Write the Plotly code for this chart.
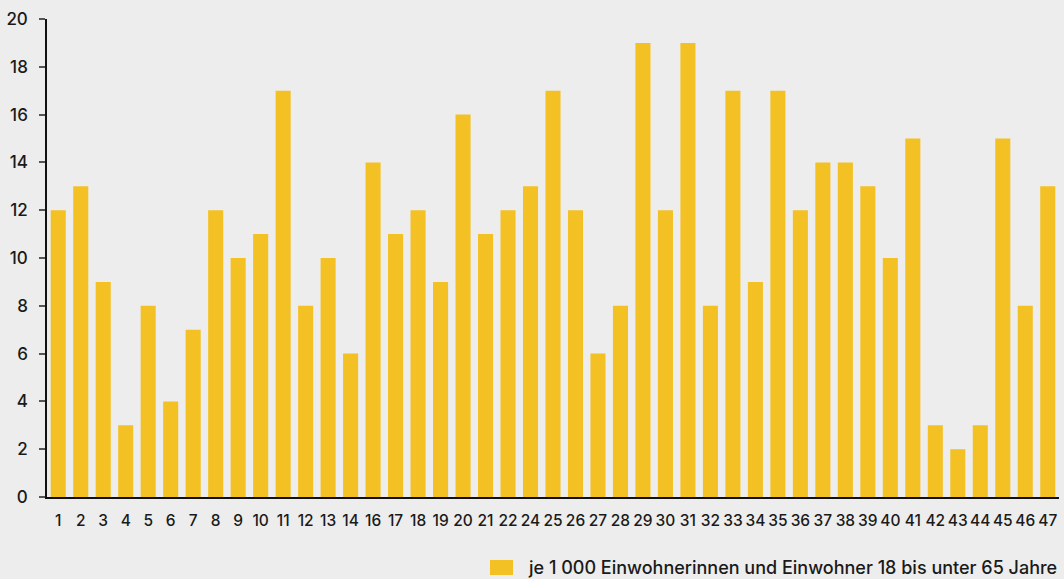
import plotly.graph_objects as go

# Bezirksnummern (15 und 23 entfallen)
bezirke = ["1", "2", "3", "4", "5", "6", "7", "8", "9", "10", "11", "12", "13", "14",
           "16", "17", "18", "19", "20", "21", "22", "24", "25", "26", "27", "28", "29",
           "30", "31", "32", "33", "34", "35", "36", "37", "38", "39", "40", "41", "42",
           "43", "44", "45", "46", "47"]
je_1000 = [12, 13, 9, 3, 8, 4, 7, 12, 10, 11, 17, 8, 10, 6,
           14, 11, 12, 9, 16, 11, 12, 13, 17, 12, 6, 8, 19,
           12, 19, 8, 17, 9, 17, 12, 14, 14, 13, 10, 15, 3,
           2, 3, 15, 8, 13]
y_ticks = [0, 2, 4, 6, 8, 10, 12, 14, 16, 18, 20]
legend_text = "je 1 000 Einwohnerinnen und Einwohner 18 bis unter 65 Jahre"

BAR = "#f4c124"
BG = "#ededed"
FONT = "Inter, Liberation Sans, Arial, sans-serif"
INK = "#1a1a1a"

W, H = 1064, 579
ML, MR, MT, MB = 47, 5, 19, 82

fig = go.Figure(go.Bar(x=bezirke, y=je_1000, marker_color=BAR,
                       marker_line_width=0, showlegend=False))

# Legend drawn as a swatch plus label in the lower right corner
def px_x(p):
    return (p - ML) / (W - ML - MR)

def px_y(p):
    return (H - MB - p) / (H - MT - MB)

fig.add_shape(type="rect", xref="paper", yref="paper",
              x0=px_x(490), x1=px_x(513), y0=px_y(575), y1=px_y(560),
              fillcolor=BAR, line_width=0)
fig.add_annotation(xref="paper", yref="paper", x=px_x(526), y=px_y(567.5),
                   xanchor="left", yanchor="middle", showarrow=False,
                   text=legend_text,
                   font=dict(family=FONT, size=18, weight=500, color=INK))

fig.update_layout(
    width=W, height=H,
    margin=dict(l=ML, r=MR, t=MT, b=MB),
    paper_bgcolor=BG, plot_bgcolor=BG,
    bargap=0.33,
    font=dict(family=FONT, size=15, weight=500, color=INK),
)
fig.update_xaxes(type="category", range=[-0.5, len(bezirke) - 0.5],
                 showline=True, linecolor="#111111", linewidth=1.5,
                 showgrid=False, ticks="", ticklabelstandoff=9,
                 tickfont=dict(family=FONT, size=15.5, weight=500, color=INK))
fig.update_yaxes(range=[0, 20], tickvals=y_ticks,
                 showline=True, linecolor="#111111", linewidth=1.5,
                 showgrid=False, zeroline=False,
                 ticks="outside", ticklen=6, tickcolor="#555555", tickwidth=1.5,
                 ticklabelstandoff=8,
                 tickfont=dict(family=FONT, size=17, weight=500, color=INK))

fig.write_html("out.html")
